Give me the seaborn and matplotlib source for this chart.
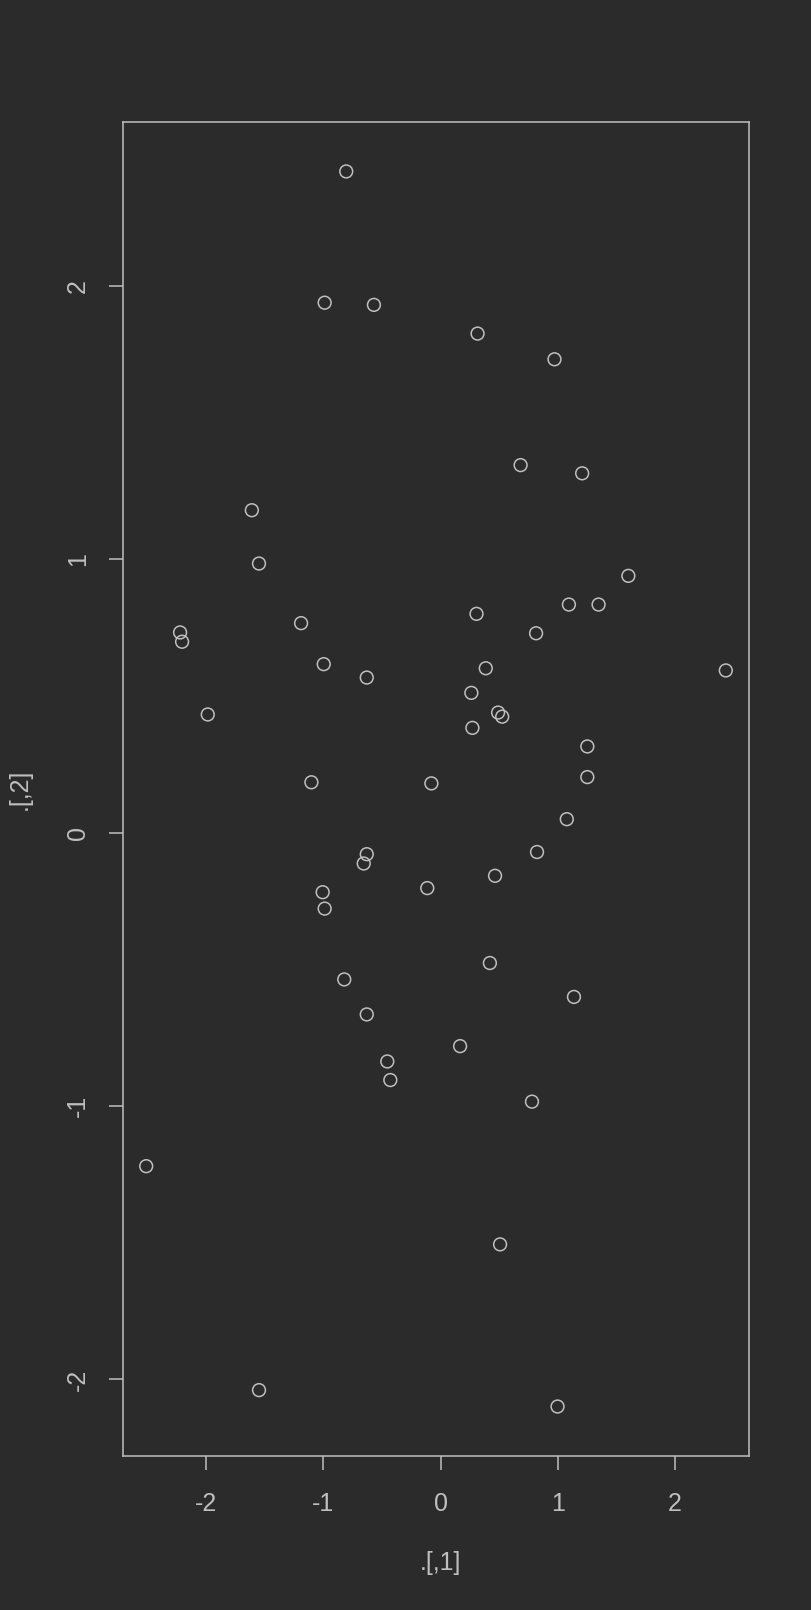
import matplotlib
matplotlib.use("Agg")
import matplotlib.pyplot as plt
import numpy as np
import pandas as pd
import seaborn as sns

# values
x_vals = [-0.805, -0.989, -0.569, 0.315, 0.971, 0.682, 1.207, -1.610, -1.549, 1.601,
          1.094, 1.347, 0.306, -1.190, -2.222, 0.814, -2.205, -0.997, 0.385, 2.432,
          -0.630, 0.262, -1.986, 0.490, 0.525, 0.271, 1.251, -1.102, -0.079, 1.251,
          1.076, -0.630, 0.822, -0.656, 0.464, -1.006, -0.114, -0.989, 0.420, -0.822,
          1.137, -0.630, 0.166, -0.455, -0.429, 0.779, -2.511, 0.507, -1.549, 0.997]
y_vals = [2.418, 1.938, 1.930, 1.825, 1.731, 1.344, 1.314, 1.179, 0.984, 0.939,
          0.834, 0.834, 0.800, 0.766, 0.732, 0.729, 0.698, 0.616, 0.601, 0.593,
          0.567, 0.511, 0.432, 0.439, 0.424, 0.383, 0.315, 0.184, 0.180, 0.203,
          0.049, -0.079, -0.071, -0.113, -0.158, -0.218, -0.203, -0.278, -0.477, -0.537,
          -0.601, -0.665, -0.781, -0.837, -0.905, -0.984, -1.220, -1.506, -2.039, -2.099]
tick_vals = [-2, -1, 0, 1, 2]
x_label = ".[,1]"
y_label = ".[,2]"

bg = "#2b2b2b"
fg = "#bfbfbf"

sns.set_style("white")
plt.rcParams['font.family'] = ['Liberation Sans', 'DejaVu Sans']

df = pd.DataFrame({"x": x_vals, "y": y_vals})

fig = plt.figure(figsize=(8.12, 16.1), dpi=100, facecolor=bg)
ax = fig.add_axes([0.1515, 0.0957, 0.7709, 0.8285])
ax.set_facecolor(bg)

sns.scatterplot(data=df, x="x", y="y", ax=ax, marker="o", s=85,
                facecolors="none", edgecolors=fg, linewidth=1.1)

# R style 4% padding around the data range
ax.margins(x=0.04, y=0.04)
ax.set_xticks(tick_vals)
ax.set_yticks(tick_vals)
ax.set_xticklabels([str(v) for v in tick_vals])
ax.set_yticklabels([str(v) for v in tick_vals], rotation=90, va="center")
ax.tick_params(axis="both", direction="out", length=10, width=1.1, color=fg,
               labelcolor=fg, labelsize=18, bottom=True, left=True)
ax.tick_params(axis="x", pad=16)
ax.tick_params(axis="y", pad=14)

for sp in ax.spines.values():
    sp.set_color(fg)
    sp.set_linewidth(1.1)

ax.set_xlabel("")
ax.set_ylabel("")
fig.text(440 / 812, 1 - 1563 / 1610, x_label, color=fg, fontsize=18,
         ha="center", va="center")
fig.text(20 / 812, 1 - 789 / 1610, y_label, color=fg, fontsize=18,
         ha="center", va="center", rotation=90)

fig.savefig("out.png", dpi=100, facecolor=bg)
